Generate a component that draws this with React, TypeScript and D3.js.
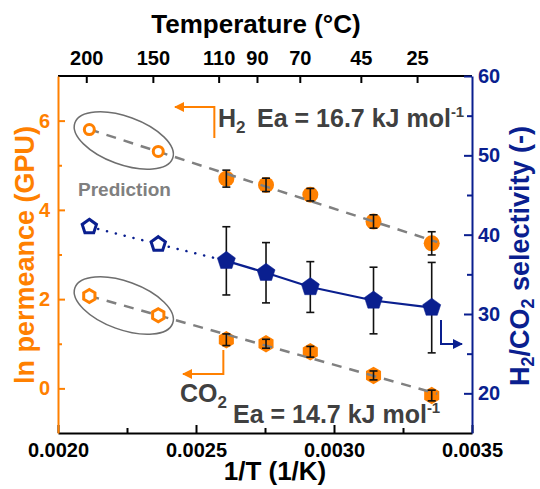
import React, { useEffect, useRef } from 'react'
import * as d3 from 'd3'

// temperatures (°C); the first two are predictions
const tempsC = [200, 150, 110, 90, 70, 45, 25]
const isPrediction = [true, true, false, false, false, false, false]
// ln permeance (GPU)
const h2Perm = [5.8, 5.31, 4.7, 4.56, 4.34, 3.74, 3.25]
const h2Err = [0, 0, 0.19, 0.15, 0.14, 0.15, 0.26]
const co2Perm = [2.07, 1.64, 1.09, 1.0, 0.82, 0.29, -0.16]
const co2Err = [0, 0, 0.13, 0.1, 0.12, 0.1, 0.12]
// H2/CO2 selectivity (-)
const selectivity = [41.0, 38.8, 36.7, 35.2, 33.4, 31.7, 30.8]
const selErr = [0, 0, 4.3, 3.8, 3.2, 4.2, 5.7]

const xTicks = [0.002, 0.0025, 0.003, 0.0035]
const xMinor = [0.00225, 0.00275, 0.00325]
const leftTicks = [0, 2, 4, 6]
const leftMinor = [1, 3, 5]
const rightTicks = [20, 30, 40, 50, 60]
const rightMinor = [25, 35, 45, 55]

const ORANGE = '#ff8000'
const NAVY = '#0a1f8f'
const FONT = '"Liberation Sans", Arial, sans-serif'

const polyPath = (n: number, r: number) =>
  'M' + d3.range(n).map(k => {
    const a = -Math.PI / 2 + k * 2 * Math.PI / n
    return [r * Math.cos(a), r * Math.sin(a)].join(',')
  }).join('L') + 'Z'

const linFit = (xs: number[], ys: number[]) => {
  const mx = d3.mean(xs)!, my = d3.mean(ys)!
  const b = d3.sum(xs.map((v, i) => (v - mx) * (ys[i] - my))) / d3.sum(xs.map(v => (v - mx) ** 2))
  return (v: number) => my + b * (v - mx)
}

export default function App() {
  const ref = useRef<SVGSVGElement>(null)

  useEffect(() => {
    const svg = d3.select(ref.current)
    svg.selectAll('*').remove()
    const left = 58, right = 472, top = 76, bottom = 433
    const invT = tempsC.map(t => 1 / (t + 273.15))

    const x = d3.scaleLinear().domain([0.002, 0.0035]).range([left, right])
    const xTop = d3.scaleLinear().domain([0.002, 0.0035]).range([left - 2, right - 16])
    const y = d3.scaleLinear().domain([-1, 7]).range([bottom, top])
    const y2 = d3.scaleLinear().domain([15, 60]).range([bottom, top])

    const styleAxis = (g: any, color: string, size: number) => {
      g.selectAll('path,line').attr('stroke', color).attr('stroke-width', 2)
      g.selectAll('text').attr('fill', color).attr('font-size', size)
        .attr('font-weight', 'bold').attr('font-family', FONT)
    }

    // top border and top axis (temperature)
    svg.append('line').attr('x1', left).attr('x2', right).attr('y1', top).attr('y2', top)
      .attr('stroke', '#000').attr('stroke-width', 2)
    const gTop = svg.append('g').attr('transform', `translate(0,${top})`)
      .call(d3.axisTop(xTop).tickValues(invT).tickFormat((d, i) => String(tempsC[i])).tickSize(-7).tickPadding(11))
    gTop.select('.domain').remove()
    styleAxis(gTop, '#000', 20)

    // bottom axis
    const gBot = svg.append('g').attr('transform', `translate(0,${bottom})`)
      .call(d3.axisBottom(x).tickValues(xTicks).tickFormat(d3.format('.4f')).tickSize(-8).tickSizeOuter(0).tickPadding(10))
    styleAxis(gBot, '#000', 20)
    const gBotMinor = svg.append('g').attr('transform', `translate(0,${bottom})`)
      .call(d3.axisBottom(x).tickValues(xMinor).tickFormat(() => '').tickSize(-5))
    gBotMinor.select('.domain').remove()
    styleAxis(gBotMinor, '#000', 20)

    // left axis
    const gLeft = svg.append('g').attr('transform', `translate(${left},0)`)
      .call(d3.axisLeft(y).tickValues(leftTicks).tickSize(-7).tickSizeOuter(0).tickPadding(8))
    styleAxis(gLeft, ORANGE, 20)
    const gLeftMinor = svg.append('g').attr('transform', `translate(${left},0)`)
      .call(d3.axisLeft(y).tickValues(leftMinor).tickFormat(() => '').tickSize(-4))
    gLeftMinor.select('.domain').remove()
    styleAxis(gLeftMinor, ORANGE, 20)

    // right axis
    const gRight = svg.append('g').attr('transform', `translate(${right},0)`)
      .call(d3.axisRight(y2).tickValues(rightTicks).tickSize(-8).tickSizeOuter(0).tickPadding(6))
    styleAxis(gRight, NAVY, 20)
    const gRightMinor = svg.append('g').attr('transform', `translate(${right},0)`)
      .call(d3.axisRight(y2).tickValues(rightMinor).tickFormat(() => '').tickSize(-5))
    gRightMinor.select('.domain').remove()
    styleAxis(gRightMinor, NAVY, 20)

    // axis titles
    svg.append('text').attr('x', 256).attr('y', 33).attr('text-anchor', 'middle')
      .attr('font-size', 26).attr('font-weight', 'bold').attr('font-family', FONT)
      .text('Temperature (°C)')
    svg.append('text').attr('x', 275).attr('y', 480).attr('text-anchor', 'middle')
      .attr('font-size', 26).attr('font-weight', 'bold').attr('font-family', FONT)
      .text('1/T (1/K)')
    svg.append('text').attr('transform', 'translate(34,255) rotate(-90)').attr('text-anchor', 'middle')
      .attr('font-size', 27).attr('font-weight', 'bold').attr('font-family', FONT).attr('fill', ORANGE)
      .text('ln permeance (GPU)')
    const rt = svg.append('text').attr('transform', 'translate(529,256) rotate(-90)').attr('text-anchor', 'middle')
      .attr('font-size', 27).attr('font-weight', 'bold').attr('font-family', FONT).attr('fill', NAVY)
    rt.append('tspan').text('H')
    rt.append('tspan').attr('font-size', 18).attr('dy', 5).text('2')
    rt.append('tspan').attr('dy', -5).text('/CO')
    rt.append('tspan').attr('font-size', 18).attr('dy', 5).text('2')
    rt.append('tspan').attr('dy', -5).text(' selectivity (-)')

    // prediction ellipses
    const ellipse = (vals: number[]) => {
      const cx = (x(invT[0]) + x(invT[1])) / 2, cy = (y(vals[0]) + y(vals[1])) / 2
      svg.append('ellipse').attr('cx', 0).attr('cy', 0).attr('rx', 52).attr('ry', 24)
        .attr('transform', `translate(${cx},${cy}) rotate(20)`)
        .attr('fill', 'none').attr('stroke', '#6e6e6e').attr('stroke-width', 1.5)
    }
    ellipse(h2Perm)
    ellipse(co2Perm)
    svg.append('text').attr('x', 78).attr('y', 196).attr('font-size', 19).attr('font-weight', 'bold')
      .attr('font-family', FONT).attr('fill', '#808080').text('Prediction')

    const measured = d3.range(tempsC.length).filter(i => !isPrediction[i])
    const predicted = d3.range(tempsC.length).filter(i => isPrediction[i])

    // selectivity error bars, lines and pentagons
    const errBars = (vals: number[], errs: number[], sy: any, cap: number) => {
      measured.forEach(i => {
        const cx = x(invT[i]), y1 = sy(vals[i] + errs[i]), y0 = sy(vals[i] - errs[i])
        const g = svg.append('g').attr('stroke', '#111').attr('stroke-width', 1.6)
        g.append('line').attr('x1', cx).attr('x2', cx).attr('y1', y1).attr('y2', y0)
        g.append('line').attr('x1', cx - cap).attr('x2', cx + cap).attr('y1', y1).attr('y2', y1)
        g.append('line').attr('x1', cx - cap).attr('x2', cx + cap).attr('y1', y0).attr('y2', y0)
      })
    }
    errBars(selectivity, selErr, y2, 4)
    const selLine = d3.line<number>().x(i => x(invT[i])).y(i => y2(selectivity[i]))
    svg.append('path').attr('d', selLine([...predicted, measured[0]])).attr('fill', 'none')
      .attr('stroke', NAVY).attr('stroke-width', 2.5).attr('stroke-dasharray', '0.1 9').attr('stroke-linecap', 'round')
    svg.append('path').attr('d', selLine(measured)).attr('fill', 'none')
      .attr('stroke', NAVY).attr('stroke-width', 2.2)
    tempsC.forEach((t, i) => {
      svg.append('path').attr('d', polyPath(5, isPrediction[i] ? 7.5 : 9.5))
        .attr('transform', `translate(${x(invT[i])},${y2(selectivity[i])})`)
        .attr('fill', isPrediction[i] ? '#fff' : NAVY)
        .attr('stroke', NAVY).attr('stroke-width', isPrediction[i] ? 3 : 0.5)
    })

    // filled permeance markers
    measured.forEach(i => {
      svg.append('circle').attr('cx', x(invT[i])).attr('cy', y(h2Perm[i])).attr('r', 8).attr('fill', ORANGE)
      svg.append('path').attr('d', polyPath(6, 8.7))
        .attr('transform', `translate(${x(invT[i])},${y(co2Perm[i])})`).attr('fill', ORANGE)
    })

    // Arrhenius fits
    const fitLine = (vals: number[]) => {
      const f = linFit(invT, vals)
      const xs = [invT[0], invT[invT.length - 1] + 0.00002]
      svg.append('line').attr('x1', x(xs[0])).attr('y1', y(f(xs[0])))
        .attr('x2', x(xs[1])).attr('y2', y(f(xs[1])))
        .attr('stroke', '#808080').attr('stroke-width', 2.5).attr('stroke-dasharray', '10 8')
    }
    fitLine(h2Perm)
    fitLine(co2Perm)

    // open prediction markers
    predicted.forEach(i => {
      svg.append('circle').attr('cx', x(invT[i])).attr('cy', y(h2Perm[i])).attr('r', 5)
        .attr('fill', '#fff').attr('stroke', ORANGE).attr('stroke-width', 3)
      svg.append('path').attr('d', polyPath(6, 6.5))
        .attr('transform', `translate(${x(invT[i])},${y(co2Perm[i])})`)
        .attr('fill', '#fff').attr('stroke', ORANGE).attr('stroke-width', 3)
    })
    errBars(h2Perm, h2Err, y, 4)
    errBars(co2Perm, co2Err, y, 4)

    // arrows pointing to axes
    const defs = svg.append('defs')
    const marker = (id: string, color: string) => defs.append('marker').attr('id', id)
      .attr('viewBox', '0 0 10 10').attr('refX', 9).attr('refY', 5)
      .attr('markerWidth', 5).attr('markerHeight', 5).attr('orient', 'auto-start-reverse')
      .append('path').attr('d', 'M0,0L10,5L0,10Z').attr('fill', color)
    marker('arrO', ORANGE)
    marker('arrN', NAVY)
    const arrow = (pts: [number, number][], color: string, id: string) =>
      svg.append('path').attr('d', d3.line()(pts)).attr('fill', 'none').attr('stroke', color)
        .attr('stroke-width', 2).attr('marker-end', `url(#${id})`)
    const h2x = x(invT[2]) - 12
    arrow([[h2x, 138], [h2x, 107], [175, 107]], ORANGE, 'arrO')
    arrow([[x(invT[2]) - 3, 350], [x(invT[2]) - 3, 374], [183, 374]], ORANGE, 'arrO')
    arrow([[441, 320], [441, 344], [462, 344]], NAVY, 'arrN')

    // activation energy labels
    const label = (xp: number, yp: number) => svg.append('text').attr('x', xp).attr('y', yp)
      .attr('font-size', 25).attr('font-weight', 'bold').attr('font-family', FONT).attr('fill', '#404040')
    const l1 = label(218, 127)
    l1.append('tspan').text('H')
    l1.append('tspan').attr('font-size', 17).attr('dy', 6).text('2')
    l1.append('tspan').attr('x', 257).attr('dy', -6).text('Ea = 16.7 kJ mol')
    l1.append('tspan').attr('font-size', 15).attr('dy', -10).text('-1')
    const l2 = label(180, 402)
    l2.append('tspan').text('CO')
    l2.append('tspan').attr('font-size', 17).attr('dy', 6).text('2')
    l2.append('tspan').attr('x', 233).attr('dy', 15).text('Ea = 14.7 kJ mol')
    l2.append('tspan').attr('font-size', 15).attr('dy', -10).text('-1')
  }, [])

  return <svg ref={ref} width={540} height={489}
    style={{ position: 'absolute', left: 0, top: 0, background: '#fff' }} />
}
